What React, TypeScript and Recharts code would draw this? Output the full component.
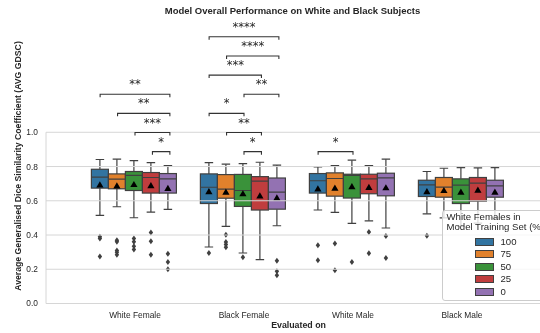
import { Bar, ComposedChart, ReferenceDot, ReferenceLine, XAxis, YAxis } from "recharts"

const FONT = "'Liberation Sans', Arial, sans-serif"
const GRAY = "#404040"
const GRID = "#d6d6d6"

const categories = ["White Female", "Black Female", "White Male", "Black Male"]
const hues = ["100", "75", "50", "25", "0"]
const colors = ["#3274a1", "#e1812c", "#3a923a", "#c03d3e", "#9372b2"]

// one row per category, one value per hue (100, 75, 50, 25, 0)
const whiskerHigh = [
  [0.841, 0.843, 0.835, 0.823, 0.806],
  [0.823, 0.814, 0.817, 0.825, 0.808],
  [0.798, 0.806, 0.837, 0.806, 0.843],
  [0.771, 0.79, 0.794, 0.792, 0.794],
]
const q3 = [
  [0.784, 0.757, 0.771, 0.765, 0.759],
  [0.757, 0.753, 0.754, 0.741, 0.733],
  [0.759, 0.763, 0.755, 0.755, 0.761],
  [0.72, 0.736, 0.728, 0.736, 0.72],
]
const median = [
  [0.738, 0.726, 0.748, 0.736, 0.728],
  [0.679, 0.668, 0.66, 0.715, 0.65],
  [0.717, 0.73, 0.748, 0.728, 0.734],
  [0.693, 0.68, 0.691, 0.703, 0.687],
]
const q1 = [
  [0.674, 0.67, 0.66, 0.645, 0.645],
  [0.584, 0.615, 0.567, 0.546, 0.551],
  [0.645, 0.627, 0.616, 0.641, 0.629],
  [0.625, 0.621, 0.584, 0.598, 0.621],
]
const whiskerLow = [
  [0.515, 0.565, 0.501, 0.534, 0.55],
  [0.33, 0.45, 0.295, 0.256, 0.454],
  [0.546, 0.532, 0.468, 0.483, 0.441],
  [0.524, 0.5, 0.45, 0.47, 0.5],
]
const means = [
  [0.693, 0.687, 0.695, 0.689, 0.672],
  [0.654, 0.65, 0.641, 0.629, 0.617],
  [0.67, 0.674, 0.683, 0.678, 0.676],
  [0.654, 0.66, 0.65, 0.662, 0.65],
]
const outliers = [
  [[0.39, 0.38, 0.275], [0.37, 0.36, 0.31, 0.3, 0.285], [0.38, 0.36, 0.335, 0.315], [0.415, 0.363, 0.285], [0.29, 0.243, 0.2]],
  [[0.295], [0.402, 0.359, 0.344, 0.328], [0.27], [], [0.25, 0.188, 0.165]],
  [[0.34, 0.252], [0.35, 0.194], [0.243], [0.417, 0.293], [0.394, 0.266]],
  [[0.396], [], [], [], []],
]

// significance brackets: [category, hue a, hue b, level, label]
const brackets: [number, number, number, number, string][] = [
  [0, 3, 4, 0, "*"],
  [0, 2, 4, 1, "***"],
  [0, 1, 4, 2, "**"],
  [0, 0, 4, 3, "**"],
  [1, 2, 3, 0, "*"],
  [1, 1, 3, 1, "**"],
  [1, 0, 2, 2, "*"],
  [1, 2, 4, 3, "**"],
  [1, 0, 3, 4, "***"],
  [1, 1, 4, 5, "****"],
  [1, 0, 4, 6, "****"],
  [2, 0, 2, 0, "*"],
]
const bracketBase = 0.887
const bracketStep = 0.1118

const yTicks = [0, 0.2, 0.4, 0.6, 0.8, 1.0]
const spineX = -0.8165

const data = categories.map((name, c) => {
  const row: Record<string, any> = { name, c }
  hues.forEach((_, h) => {
    row[`h${h}`] = [q1[c][h], q3[c][h]]
  })
  return row
})

// position of a hue's box on the numeric helper axis (category index + dodge)
const hueX = (c: number, h: number) => c - 0.32 + 0.16 * h

const boxShape = (h: number) => (props: any) => {
  const { x, y, width, height, payload } = props
  const c = payload.c
  const lo = q1[c][h]
  const hi = q3[c][h]
  const k = height / (hi - lo)
  const toY = (v: number) => y + (hi - v) * k
  const cx = x + width / 2
  const cap = width / 4
  const yHi = toY(whiskerHigh[c][h])
  const yLo = toY(whiskerLow[c][h])
  const yMed = toY(median[c][h])
  const yMean = toY(means[c][h])
  return (
    <g>
      <line x1={cx} x2={cx} y1={y} y2={yHi} stroke={GRAY} strokeWidth={1.2} />
      <line x1={cx - cap} x2={cx + cap} y1={yHi} y2={yHi} stroke={GRAY} strokeWidth={1.2} />
      <line x1={cx} x2={cx} y1={y + height} y2={yLo} stroke={GRAY} strokeWidth={1.2} />
      <line x1={cx - cap} x2={cx + cap} y1={yLo} y2={yLo} stroke={GRAY} strokeWidth={1.2} />
      <rect x={x} y={y} width={width} height={height} fill={colors[h]} stroke={GRAY} strokeWidth={1.2} />
      <line x1={x} x2={x + width} y1={yMed} y2={yMed} stroke={GRAY} strokeWidth={1.2} />
      {outliers[c][h].map((v, i) => {
        const oy = toY(v)
        return <path key={i} d={`M${cx},${oy - 3}L${cx + 2.2},${oy}L${cx},${oy + 3}L${cx - 2.2},${oy}Z`} fill={GRAY} />
      })}
      <path d={`M${cx},${yMean - 3.6}L${cx + 3.6},${yMean + 2.6}L${cx - 3.6},${yMean + 2.6}Z`} fill="#000" />
    </g>
  )
}

export default function App() {
  return (
    <div style={{ position: "absolute", left: 0, top: 0, width: 540, height: 333, overflow: "hidden", background: "#fff", fontFamily: FONT, color: "#262626" }}>
      <ComposedChart
        width={551}
        height={333}
        data={data}
        margin={{ top: 8, right: 0, bottom: 0, left: 0 }}
        barGap={0}
        barCategoryGap="10%"
        style={{ willChange: "transform" }}
      >
        <XAxis
          xAxisId="cat"
          dataKey="name"
          interval={0}
          padding={{ left: 34.5, right: 34.5 }}
          tickLine={false}
          axisLine={false}
          height={29.5}
          tickSize={3}
          tickMargin={6}
          tick={{ fontSize: 8.4, fill: "#262626", fontFamily: FONT }}
        />
        <XAxis xAxisId="num" dataKey="c" type="number" domain={[0, 3]} padding={{ left: 89, right: 89 }} hide />
        <YAxis
          domain={[0, 1.726]}
          ticks={yTicks}
          allowDataOverflow
          width={46}
          axisLine={false}
          tickLine={false}
          tickFormatter={(v: number) => v.toFixed(1)}
          tick={{ fontSize: 8.4, fill: "#262626", fontFamily: FONT }}
        />
        {yTicks.map((t) => (
          <ReferenceLine key={`g${t}`} xAxisId="num" y={t} stroke={GRID} strokeWidth={1} />
        ))}
        <ReferenceLine
          xAxisId="num"
          segment={[{ x: spineX, y: 0 }, { x: spineX, y: 1 }]}
          ifOverflow="visible"
          stroke={GRID}
          strokeWidth={1}
        />
        {hues.map((hue, h) => (
          <Bar key={hue} xAxisId="cat" dataKey={`h${h}`} fill={colors[h]} isAnimationActive={false} shape={boxShape(h)} />
        ))}
        {brackets.map(([c, a, b, level], i) => {
          const v = bracketBase + bracketStep * level
          return (
            <ReferenceLine
              key={`b${i}`}
              xAxisId="num"
              segment={[{ x: hueX(c, a), y: v }, { x: hueX(c, b), y: v }]}
              ifOverflow="visible"
              shape={(p: any) => (
                <path d={`M${p.x1},${p.y1 + 3}V${p.y1}H${p.x2}V${p.y2 + 3}`} stroke="#333" strokeWidth={1.1} fill="none" />
              )}
            />
          )
        })}
        {brackets.map(([c, a, b, level, label], i) => {
          const v = bracketBase + bracketStep * level
          return (
            <ReferenceDot
              key={`t${i}`}
              xAxisId="num"
              x={(hueX(c, a) + hueX(c, b)) / 2}
              y={v}
              r={0}
              ifOverflow="visible"
              shape={(p: any) => (
                <text x={p.cx} y={p.cy - 6} textAnchor="middle" fontSize={11.5} fontFamily="'DejaVu Sans', sans-serif" fill="#262626">
                  {label}
                </text>
              )}
            />
          )
        })}
      </ComposedChart>

      <div style={{ position: "absolute", left: 40, width: 505, top: 4, textAlign: "center", fontSize: 9.5, fontWeight: "bold", lineHeight: "13px", whiteSpace: "nowrap" }}>
        Model Overall Performance on White and Black Subjects
      </div>
      <div style={{ position: "absolute", left: 46, width: 505, top: 319, textAlign: "center", fontSize: 8.8, fontWeight: "bold", lineHeight: "12px" }}>
        Evaluated on
      </div>
      <div
        style={{
          position: "absolute",
          left: 18 - 160,
          top: 166 - 6,
          width: 320,
          lineHeight: "12px",
          textAlign: "center",
          fontSize: 8.7,
          fontWeight: "bold",
          whiteSpace: "nowrap",
          transform: "rotate(-90deg)",
        }}
      >
        Average Generalised Dice Similarity Coefficient (AVG GDSC)
      </div>

      <div
        style={{
          position: "absolute",
          left: 441.5,
          top: 209.5,
          width: 130,
          height: 89,
          background: "rgba(255,255,255,0.8)",
          border: "1px solid #cccccc",
          borderRadius: 3,
          fontSize: 9.6,
        }}
      >
        <div style={{ position: "absolute", left: 4, top: 1.5, lineHeight: "10px", whiteSpace: "nowrap" }}>
          White Females in
          <br />
          Model Training Set (%)
        </div>
        {hues.map((hue, h) => (
          <div key={hue} style={{ position: "absolute", left: 32, top: 26.5 + h * 12.4, height: 10, display: "flex", alignItems: "center" }}>
            <div style={{ width: 17, height: 6, background: colors[h], border: `1px solid ${GRAY}` }} />
            <span style={{ marginLeft: 7, lineHeight: "10px" }}>{hue}</span>
          </div>
        ))}
      </div>
    </div>
  )
}
